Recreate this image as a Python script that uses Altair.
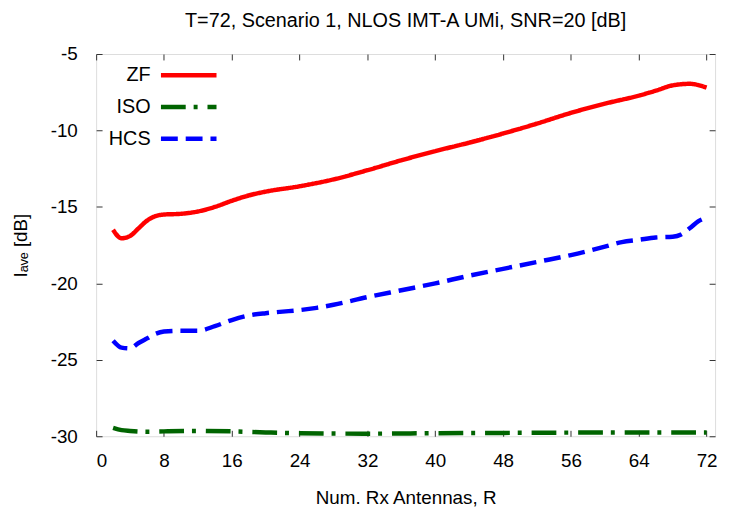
import altair as alt
import pandas as pd

# ---- data ----
R_ZF = [2, 3, 4, 5, 6, 7, 8, 10, 12, 14, 16, 18, 20, 24, 28, 32, 36, 40, 44, 48, 52, 56, 60, 64, 66, 68, 70, 72]
ZF = [-16.5, -17.05, -16.9, -16.4, -15.9, -15.6, -15.5, -15.45, -15.3, -15.0, -14.6, -14.25, -14.0, -13.65,
      -13.2, -12.6, -11.95, -11.35, -10.8, -10.2, -9.55, -8.85, -8.25, -7.72, -7.4, -7.05, -6.95, -7.2]

R_ISO = [2, 3, 4, 6, 8, 12, 16, 20, 24, 32, 40, 48, 56, 64, 72]
ISO = [-29.45, -29.6, -29.65, -29.7, -29.68, -29.65, -29.68, -29.75, -29.8, -29.83, -29.8, -29.78, -29.76,
       -29.75, -29.75]

R_HCS = [2, 3, 4, 5, 6, 7, 8, 10, 12, 14, 16, 18, 20, 22, 24, 26, 28, 32, 36, 40, 44, 48, 52, 56, 60, 62,
         64, 66, 68, 69, 70, 71, 72]
HCS = [-23.75, -24.2, -24.25, -23.9, -23.6, -23.3, -23.15, -23.1, -23.1, -22.8, -22.4, -22.1, -21.95, -21.85,
       -21.75, -21.6, -21.4, -20.9, -20.45, -20.0, -19.5, -19.05, -18.6, -18.15, -17.6, -17.3, -17.15, -17.0,
       -16.95, -16.8, -16.4, -15.95, -15.7]

SERIES = ["ZF", "ISO", "HCS"]
COLORS = ["#ff0000", "#006400", "#0000ff"]
DASHES = [[1, 0], [25, 8, 4, 10], [17, 8]]
X_TICKS = [0, 8, 16, 24, 32, 40, 48, 56, 64, 72]
Y_TICKS = [-30, -25, -20, -15, -10, -5]

rows = []
for name, xs, ys in [("ZF", R_ZF, ZF), ("ISO", R_ISO, ISO), ("HCS", R_HCS, HCS)]:
    for x, y in zip(xs, ys):
        rows.append({"R": x, "I": y, "s": name})
df = pd.DataFrame(rows)

FONT = "Liberation Sans"

xscale = alt.Scale(domain=[0, 73], nice=False, zero=False)
yscale = alt.Scale(domain=[-30, -5], nice=False, zero=False)

common_axis = dict(grid=False, domain=False, tickSize=6, tickColor="#333", tickWidth=1, offset=-6,
                   labelFont=FONT, labelFontSize=19, labelColor="black",
                   labelExpr="toString(datum.value)",
                   titleFont=FONT, titleFontSize=19, titleColor="black", titleFontWeight="normal")

lines = alt.Chart(df).mark_line(strokeWidth=4.5, interpolate="monotone").encode(
    x=alt.X("R:Q", scale=xscale,
            axis=alt.Axis(orient="bottom", values=X_TICKS, labelPadding=16, titlePadding=18,
                          title="Num. Rx Antennas, R", **common_axis)),
    y=alt.Y("I:Q", scale=yscale,
            axis=alt.Axis(orient="left", values=Y_TICKS, labelPadding=19, titlePadding=20,
                          title="Iₐᵥₑ [dB]", **common_axis)),
    color=alt.Color("s:N", scale=alt.Scale(domain=SERIES, range=COLORS),
                    legend=alt.Legend(title=None, orient="none", legendX=76, legendY=4, padding=0,
                                      symbolType="M-1.87,0H1.87", symbolSize=900, symbolStrokeWidth=4.5,
                                      labelAlign="right", labelOffset={"expr": "-56"}, labelFont=FONT,
                                      labelFontSize=20, labelColor="black", rowPadding=4)),
    strokeDash=alt.StrokeDash("s:N", scale=alt.Scale(domain=SERIES, range=DASHES), legend=None),
)

mirror = alt.Chart(df).mark_line(opacity=0).encode(
    x=alt.X("R:Q", scale=xscale,
            axis=alt.Axis(orient="top", values=X_TICKS, labels=False, title=None, **common_axis)),
    y=alt.Y("I:Q", scale=yscale,
            axis=alt.Axis(orient="right", values=Y_TICKS, labels=False, title=None, **common_axis)),
    detail="s:N",
)

chart = alt.layer(mirror, lines).properties(
    width=625, height=386,
    autosize=alt.AutoSizeParams(type="none"),
    padding={"left": 89, "top": 44, "right": 8, "bottom": 72},
    title=alt.TitleParams("T=72, Scenario 1, NLOS IMT-A UMi, SNR=20 [dB]", font=FONT, fontSize=20,
                          fontWeight="normal", color="black", offset=14, dx=0),
).configure_view(stroke="black", strokeWidth=1).configure(background="white")

chart.save("out.html", embed_options={"renderer": "svg", "actions": False})
